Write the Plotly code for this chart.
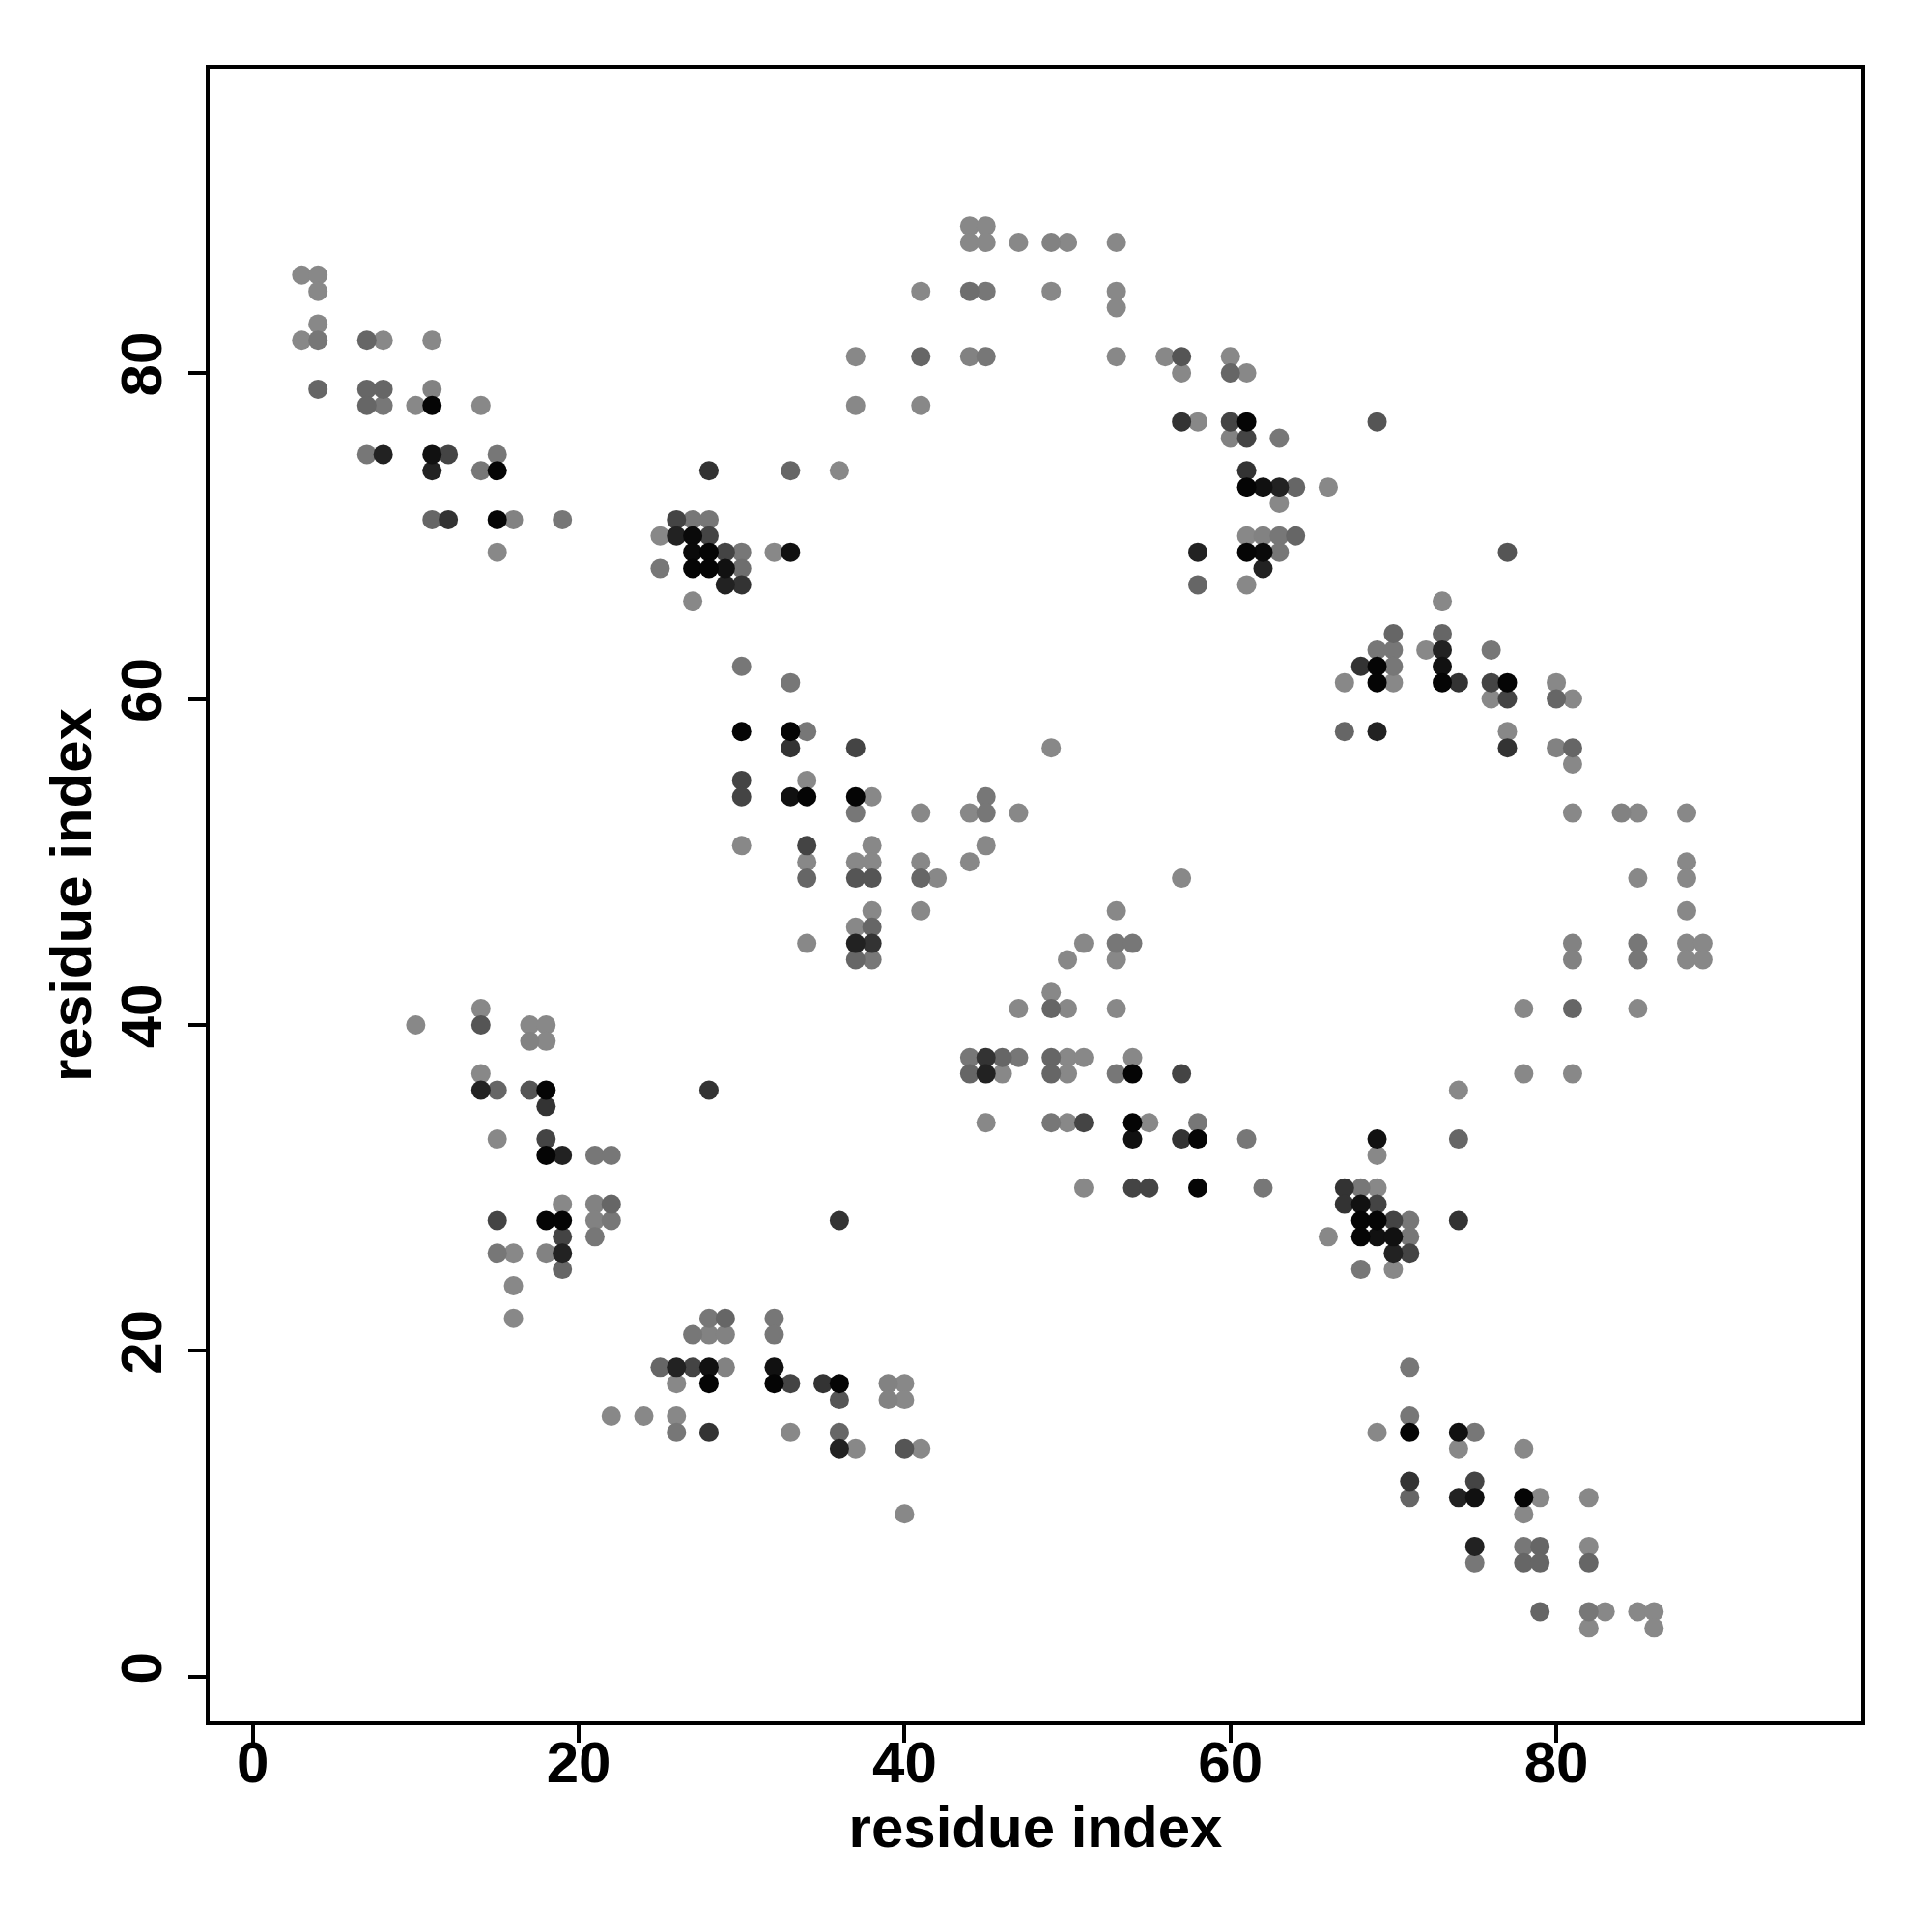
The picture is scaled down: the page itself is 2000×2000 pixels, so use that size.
import plotly.graph_objects as go

# (residue i, residue j, gray level 0=black .. 255=white)
points = [
    # upper-left block
    (3,86,136),(4,86,136),(4,85,136),(4,83,136),(3,82,136),(4,82,119),(7,82,102),(8,82,136),(11,82,136),
    (4,79,102),(7,79,102),(8,79,102),(11,79,130),
    (7,78,102),(8,78,119),(10,78,136),(11,78,5),(14,78,136),
    (7,75,119),(8,75,34),(11,75,17),(12,75,68),(15,75,119),
    (11,74,34),(14,74,119),(15,74,5),
    (11,71,102),(12,71,51),(15,71,5),(16,71,130),(19,71,119),
    (15,69,136),
    # top middle
    (44,89,136),(45,89,136),(44,88,136),(45,88,136),
    (41,85,136),(44,85,110),(45,85,119),
    (37,81,136),(41,81,102),(44,81,130),(45,81,119),
    (37,78,136),(41,78,136),
    (28,74,51),(33,74,102),(36,74,136),
    (26,71,68),(27,71,119),(28,71,119),
    (25,70,136),(26,70,34),(27,70,10),(28,70,68),
    (27,69,10),(28,69,5),(29,69,68),(30,69,119),(32,69,136),(33,69,17),
    (25,68,119),(27,68,5),(28,68,5),(29,68,17),(30,68,110),
    (29,67,34),(30,67,51),
    (27,66,136),
    (30,62,119),
    (47,88,136),(49,88,130),(50,88,136),(53,88,136),
    (49,85,136),(53,85,136),(53,84,136),
    (53,81,136),(56,81,136),(57,81,85),(60,81,136),
    (57,80,136),(60,80,102),(61,80,136),
    (57,77,51),(58,77,136),(60,77,68),(61,77,5),
    (60,76,130),(61,76,68),(63,76,119),
    (61,74,51),
    (61,73,5),(62,73,17),(63,73,34),(64,73,102),(66,73,136),
    (63,72,136),
    (61,70,136),(62,70,130),(63,70,119),(64,70,102),
    (58,69,34),(61,69,5),(62,69,10),(63,69,119),
    (62,68,34),
    (58,67,102),(61,67,136),
    # right side
    (69,77,85),(77,69,85),(73,66,136),(70,64,102),(73,64,102),
    (69,63,119),(70,63,119),(72,63,136),(73,63,34),(76,63,119),
    (68,62,51),(69,62,5),(70,62,119),(73,62,17),
    (67,61,136),(69,61,5),(70,61,136),(73,61,5),(74,61,51),(76,61,68),(77,61,5),(80,61,136),
    (76,60,136),(77,60,68),(80,60,102),(81,60,136),
    (67,58,102),(69,58,34),(77,58,136),
    (77,57,51),(80,57,130),(81,57,102),
    (81,56,136),
    (81,53,136),(84,53,130),(85,53,136),(88,53,136),
    (88,50,136),(85,49,136),(88,49,136),(88,47,136),
    (81,45,130),(85,45,119),(88,45,136),(89,45,136),
    (81,44,130),(85,44,119),(88,44,136),(89,44,136),
    (78,41,136),(81,41,102),(85,41,136),
    (78,37,136),(81,37,136),
    (74,36,136),
    (69,33,17),(74,33,102),
    (69,32,136),
    # centre
    (49,57,136),(47,53,136),(57,49,136),(53,47,136),
    (51,45,136),(53,45,119),(54,45,119),
    (50,44,136),(53,44,136),
    (49,42,136),
    (47,41,136),(49,41,102),(50,41,136),(53,41,136),
    (46,38,102),(47,38,119),(49,38,102),(50,38,136),(51,38,136),(54,38,136),
    (46,37,136),(49,37,102),(50,37,136),(53,37,119),(54,37,5),(57,37,68),
    (49,34,119),(50,34,136),(51,34,68),(54,34,5),(55,34,136),(58,34,119),
    (54,33,17),(57,33,51),(58,33,5),(61,33,119),
    (33,61,119),
    (30,58,5),(33,58,5),(34,58,119),
    (33,57,51),(37,57,68),
    (30,55,68),(34,55,136),
    (30,54,68),(33,54,17),(34,54,5),(37,54,5),(38,54,136),(45,54,119),
    (37,53,119),(41,53,136),(44,53,136),(45,53,119),
    (30,51,136),(34,51,68),(38,51,136),(45,51,136),
    (34,50,136),(37,50,136),(38,50,136),(41,50,136),(44,50,136),
    (34,49,102),(37,49,85),(38,49,85),(41,49,102),(42,49,136),
    (38,47,136),(41,47,136),
    (37,46,136),(38,46,102),
    (34,45,136),(37,45,34),(38,45,51),
    (37,44,102),(38,44,119),
    (44,38,119),(45,38,51),
    (44,37,102),(45,37,34),
    (28,36,51),
    (45,34,136),
    # left middle
    (14,41,136),
    (10,40,136),(14,40,85),(17,40,136),(18,40,136),
    (17,39,130),(18,39,136),
    (14,37,136),
    (14,36,34),(15,36,102),(17,36,85),(18,36,5),
    (18,35,51),
    (15,33,136),(18,33,68),
    (18,32,5),(19,32,34),(21,32,119),(22,32,119),
    (19,29,136),(21,29,130),(22,29,102),
    (15,28,68),(18,28,5),(19,28,5),(21,28,130),(22,28,119),
    (19,27,68),(21,27,119),
    (15,26,119),(16,26,136),(18,26,130),(19,26,34),
    (19,25,102),
    (16,24,136),
    (16,22,136),
    (22,16,136),(24,16,136),
    # bottom
    (36,28,51),
    (28,22,119),(29,22,102),(32,22,119),
    (27,21,119),(28,21,130),(29,21,130),(32,21,119),
    (25,19,102),(26,19,34),(27,19,68),(28,19,17),(29,19,130),(32,19,17),
    (26,18,136),(28,18,5),(32,18,5),(33,18,68),(35,18,51),(36,18,5),(39,18,130),(40,18,136),
    (36,17,85),(39,17,130),(40,17,136),
    (26,16,136),
    (26,15,119),(28,15,51),(33,15,136),(36,15,102),
    (36,14,34),(37,14,136),(40,14,85),(41,14,136),
    (40,10,136),
    (51,30,136),(54,30,68),(55,30,68),(58,30,5),(62,30,119),(67,30,51),
    (67,29,51),
    (66,27,136),
    (68,30,119),(69,30,136),
    (68,29,17),(69,29,68),
    (68,28,5),(69,28,5),(70,28,68),(71,28,119),(74,28,51),
    (68,27,5),(69,27,17),(70,27,17),(71,27,119),
    (70,26,34),(71,26,68),
    (68,25,119),(70,25,136),
    (71,19,119),
    (71,16,119),
    (69,15,136),(71,15,5),(74,15,17),(75,15,119),
    (74,14,136),(78,14,136),
    (71,12,51),(75,12,68),
    (71,11,102),(74,11,34),(75,11,17),(78,11,5),(79,11,136),(82,11,136),
    (78,10,136),
    (75,8,34),(78,8,119),(79,8,102),(82,8,136),
    (75,7,119),(78,7,102),(79,7,102),(82,7,102),
    (79,4,102),(82,4,119),(83,4,136),(85,4,136),(86,4,136),
    (82,3,136),(86,3,136),
]

res_i = [p[0] for p in points]
res_j = [p[1] for p in points]
shade = [p[2] for p in points]

tick_vals = [0, 20, 40, 60, 80]
tick_text = ["0", "20", "40", "60", "80"]
axis_label = "residue index"

# draw lighter points first so darker ones sit on top
order = sorted(range(len(points)), key=lambda k: -shade[k])
xs = [res_i[k] for k in order]
ys = [res_j[k] for k in order]
cols = [f"rgb({shade[k]},{shade[k]},{shade[k]})" for k in order]

fig = go.Figure(go.Scatter(
    x=xs, y=ys, mode="markers",
    marker=dict(size=20, color=cols, line=dict(width=0)),
    showlegend=False, hoverinfo="x+y",
))

font_family = "Liberation Sans, Arial, Helvetica, sans-serif"
axis_common = dict(
    showgrid=False, zeroline=False,
    showline=True, mirror=True, linecolor="black", linewidth=4,
    ticks="outside", ticklen=18, tickwidth=4, tickcolor="black",
    tickvals=tick_vals, ticktext=tick_text,
    tickfont=dict(family=font_family, size=60, color="black", weight="bold"),
)

fig.update_layout(
    width=2000, height=2000,
    paper_bgcolor="white", plot_bgcolor="white",
    margin=dict(l=209, r=81, t=63, b=226),
    xaxis=dict(range=[-2.65, 98.73], ticklabelstandoff=-31,
               title=dict(text=axis_label, standoff=12,
                          font=dict(family=font_family, size=60, color="black", weight="bold")),
               **axis_common),
    yaxis=dict(range=[-2.73, 98.67], tickangle=-90, ticklabelstandoff=4,
               title=dict(text=axis_label, standoff=0,
                          font=dict(family=font_family, size=60, color="black", weight="bold")),
               **axis_common),
)

fig.write_html("out.html")
